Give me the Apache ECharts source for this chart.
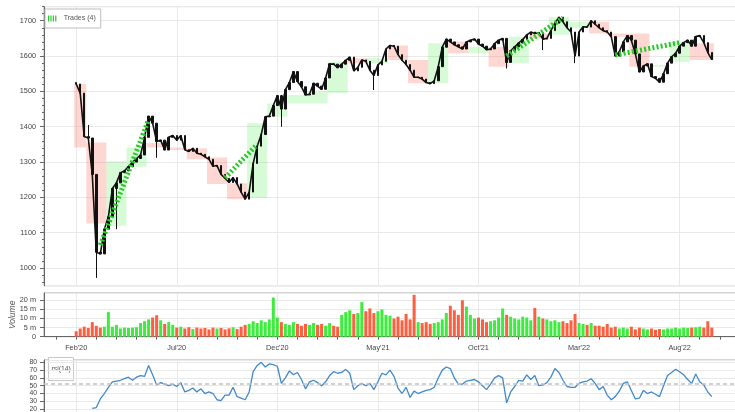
<!DOCTYPE html>
<html>
<head>
<meta charset="utf-8">
<script src="https://cdn.jsdelivr.net/npm/echarts@6/dist/echarts.min.js"></script>
<style>
html, body { margin: 0; padding: 0; background: #fff; }
#chart { width: 735px; height: 412px; }
</style>
</head>
<body>
<div id="chart"></div>
<script>
// bars sit on a shared slot axis, slot 8 is the first bar (Feb'20)
var slotCount = 175;
var firstSlot = 8;
var tickLabels = ["Feb'20", "Jul'20", "Dec'20", "May'21", "Oct'21", "Mar'22", "Aug'22"];

// closing prices, one per slot from firstSlot
var closes = [
  1521, 1495, 1372, 1368, 1265, 1045, 1040, 1110, 1145, 1225, 1241, 1270, 1275, 1287, 1300, 1310, 1320, 1370, 1430, 1410,
  1358, 1362, 1334, 1370, 1375, 1362, 1375, 1335, 1330, 1339, 1325, 1322, 1315, 1308, 1288, 1290, 1265, 1254, 1242, 1256,
  1238, 1215, 1195, 1215, 1296, 1345, 1378, 1428, 1430, 1460, 1488, 1450, 1505, 1525, 1556, 1528, 1513, 1490, 1492, 1523,
  1515, 1506, 1538, 1578, 1577, 1567, 1577, 1588, 1597, 1558, 1568, 1589, 1585, 1560, 1545, 1575, 1585, 1620, 1630, 1628,
  1604, 1588, 1576, 1560, 1540, 1540, 1535, 1525, 1522, 1530, 1570, 1625, 1648, 1640, 1632, 1626, 1620, 1640, 1645, 1648,
  1634, 1628, 1618, 1620, 1635, 1645, 1650, 1582, 1615, 1626, 1637, 1647, 1660, 1668, 1664, 1666, 1648, 1650, 1672, 1693,
  1710, 1697, 1680, 1668, 1600, 1668, 1683, 1682, 1700, 1690, 1680, 1672, 1668, 1655, 1600, 1612, 1640, 1658, 1645, 1606,
  1555, 1572, 1578, 1542, 1537, 1526, 1550, 1580, 1598, 1608, 1628, 1638, 1645, 1628, 1655, 1658, 1638, 1610, 1590
];

// [slot, high, low] for the longer wicks
var wicks = [
  [11, 1405, 1360], [13, 1120, 972], [18, 1245, 1110], [28, 1362, 1312], [59, 1490, 1400],
  [82, 1560, 1504], [115, 1650, 1565], [124, 1666, 1617], [132, 1668, 1580]
];

// volume in millions, one per slot from firstSlot
var volumes = [
  3.0, 4.5, 5.5, 4.8, 8.0, 6.0, 5.0, 5.5, 13.5, 5.5, 6.5, 4.5, 5.0, 4.8, 5.0, 5.2, 7.5, 8.5, 9.5, 10.5,
  11.8, 9.0, 7.0, 8.0, 6.5, 5.0, 5.5, 4.5, 5.2, 4.2, 5.0, 4.5, 4.8, 4.0, 5.0, 4.5, 4.8, 4.0, 4.6, 5.2,
  4.2, 5.5, 6.5, 7.0, 8.5, 7.5, 9.0, 8.0, 9.5, 21.5, 10.5, 8.0, 7.0, 6.5, 8.0, 7.0, 6.0, 7.0, 6.5, 7.5,
  6.5, 7.0, 6.0, 7.5, 6.0, 5.5, 12.0, 13.5, 14.5, 12.5, 13.0, 19.0, 14.0, 15.5, 13.0, 14.0, 15.0, 12.0, 11.5, 10.0,
  11.0, 9.0, 12.5, 9.5, 23.0, 8.0, 7.5, 8.0, 7.0, 7.5, 8.0, 9.5, 13.0, 17.0, 14.5, 12.0, 20.0, 16.5, 12.0, 10.0,
  10.5, 9.5, 8.0, 8.5, 9.0, 10.5, 15.5, 12.0, 11.0, 10.0, 9.5, 11.0, 10.5, 9.0, 15.8, 11.0, 10.0, 9.5, 8.5, 9.0,
  8.0, 8.5, 7.5, 9.0, 12.5, 7.5, 7.0, 6.5, 7.5, 6.0, 6.0, 5.5, 7.0, 5.0, 5.5, 4.5, 5.0, 4.5, 5.5, 4.0,
  5.0, 4.5, 4.0, 4.5, 3.8, 4.2, 4.0, 4.5, 4.5, 5.0, 4.5, 5.0, 4.8, 5.0, 5.2, 5.5, 5.0, 8.5, 5.0
];

// rsi(14), one per slot from rsiStart
var rsiStart = 12;
var rsi = [
  21, 22, 33, 40, 48, 55, 56, 57, 59, 61, 57, 61, 63, 62, 76, 64, 51, 54, 52, 50,
  52, 49, 54, 42, 44, 47, 42, 46, 40, 42, 40, 32, 31, 38, 38, 48, 36, 34, 32, 42,
  68, 76, 80, 74, 78, 77, 75, 53, 60, 69, 64, 67, 58, 46, 55, 57, 54, 50, 55, 63,
  68, 66, 67, 71, 66, 45, 50, 53, 50, 53, 45, 55, 66, 64, 70, 62, 47, 40, 48, 35,
  43, 40, 42, 44, 45, 48, 60, 70, 74, 72, 60, 52, 52, 56, 57, 58, 55, 50, 45, 52,
  60, 63, 60, 28, 42, 49, 57, 56, 64, 58, 63, 50, 51, 54, 61, 72, 67, 57, 49, 48,
  48, 53, 55, 56, 59, 53, 45, 49, 38, 32, 36, 43, 53, 55, 44, 33, 34, 44, 40, 42,
  39, 36, 50, 63, 67, 71, 68, 64, 58, 53, 65, 55, 51, 42, 36
];
var rsiMean = 52;

// monthly bars: [first slot, last slot, open, close]
var months = [
  [8, 10, 1521, 1341], [11, 15, 1355, 1126], [16, 20, 1120, 1302], [21, 25, 1287, 1341],
  [26, 30, 1354, 1341], [31, 35, 1341, 1334], [36, 40, 1339, 1308], [41, 45, 1313, 1238],
  [46, 50, 1240, 1195], [51, 55, 1198, 1410], [56, 60, 1428, 1466], [61, 65, 1466, 1490],
  [66, 70, 1466, 1499], [71, 75, 1495, 1584], [76, 80, 1594, 1580], [81, 85, 1580, 1594],
  [86, 90, 1630, 1589], [91, 95, 1589, 1523], [96, 100, 1523, 1636], [101, 105, 1641, 1608],
  [106, 110, 1608, 1626], [111, 115, 1626, 1570], [116, 120, 1580, 1655], [121, 125, 1664, 1650],
  [126, 130, 1660, 1710], [131, 135, 1680, 1697], [136, 140, 1697, 1664], [141, 145, 1664, 1655],
  [146, 150, 1664, 1570], [151, 155, 1570, 1575], [156, 160, 1584, 1641], [161, 166, 1636, 1589]
];

// trades: [entry slot, entry price, exit slot, exit price]
var trades = [
  [14, 1065, 26, 1420],
  [45, 1255, 53, 1350],
  [115, 1600, 129, 1708],
  [142, 1603, 158, 1638]
];

var font = 'Liberation Sans';
var tickFont = 7.3;
var gridColor = '#e9e9e9';
var upColor = '#3ded3d';
var downColor = '#ff5f3f';
var tradeColor = '#26c926';

var slots = [];
for (var i = 0; i < slotCount; i++) slots.push(String(i));

function isLabelSlot(idx) { return idx >= firstSlot && (idx - firstSlot) % 25 === 0; }
function isTickSlot(idx) { return (idx - firstSlot) % 5 === 0; }

// candles: open is the previous close
var candleData = [];
var closeData = [];
var volumeData = [];
for (var k = 0; k < closes.length; k++) {
  var slot = firstSlot + k;
  var o = k === 0 ? closes[0] + 4 : closes[k - 1];
  var c = closes[k];
  var hi = Math.max(o, c), lo = Math.min(o, c);
  wicks.forEach(function (w) {
    if (w[0] === slot) { hi = Math.max(hi, w[1]); lo = Math.min(lo, w[2]); }
  });
  candleData.push([slot, o, c, lo, hi]);
  closeData.push([slot, c]);
  volumeData.push({ value: [slot, volumes[k]], itemStyle: { color: c >= o ? upColor : downColor } });
}

var rsiData = rsi.map(function (v, j) { return [rsiStart + j, v]; });

var tradeSeries = trades.map(function (t) {
  return {
    name: 'Trades (4)',
    type: 'line',
    xAxisIndex: 0, yAxisIndex: 0,
    data: [[t[0], t[1]], [t[2], t[3]]],
    symbol: 'none',
    z: 5,
    lineStyle: { color: tradeColor, width: 5, type: [2, 2.2], cap: 'butt' },
    itemStyle: { color: tradeColor }
  };
});

var chart = echarts.init(document.getElementById('chart'));

var xBase = {
  type: 'category',
  data: slots,
  boundaryGap: false,
  axisLine: { show: false },
  axisTick: { show: false },
  axisLabel: { show: false },
  splitLine: { show: true, interval: isLabelSlot, lineStyle: { color: gridColor, width: 1 } }
};

function xAxisFor(gridIndex, extra) {
  return Object.assign({}, xBase, { gridIndex: gridIndex }, extra || {});
}

function panel(top, bottom, show) {
  return {
    left: 44, right: -9, top: top, bottom: bottom,
    outerBoundsMode: 'none', containLabel: false,
    show: show, borderColor: '#a9a9a9', borderWidth: 1
  };
}

var option = {
  animation: false,
  backgroundColor: '#fff',
  textStyle: { fontFamily: font },
  grid: [
    panel(6.6, 126.3, true),
    panel(293, 75.3, true),
    panel(360, -12.7, true),
    panel(6.6, 129.9, false)
  ],
  legend: {
    data: [{
      name: 'Trades (4)',
      icon: 'path://M0,0h2v10h-2zM4,0h2v10h-2zM8,0h2v10h-2zM12,0h2v10h-2z',
      itemStyle: { color: tradeColor }
    }],
    left: 45, top: 9,
    itemWidth: 13, itemHeight: 6, itemGap: 4,
    padding: [6, 5, 6, 3],
    backgroundColor: '#fff',
    borderColor: '#bdbdbd', borderWidth: 1,
    textStyle: { fontSize: 7, color: '#555', fontFamily: font }
  },
  graphic: [{
    type: 'group', left: 48, top: 357,
    children: [
      { type: 'rect', shape: { x: 0, y: 0, width: 25, height: 23 }, style: { fill: '#fff', stroke: '#c8c8c8', lineWidth: 1 } },
      { type: 'text', x: 3, y: 8, style: { text: 'rsi(14)', fontSize: 6.8, fill: '#555', fontFamily: font } }
    ]
  }],
  xAxis: [
    xAxisFor(0),
    xAxisFor(1, {
      axisLine: { show: true, lineStyle: { color: '#666', width: 1 } },
      axisTick: { show: true, interval: isTickSlot, length: 3, lineStyle: { color: '#666' } },
      axisLabel: {
        show: true, interval: isLabelSlot, margin: 8, hideOverlap: false,
        fontSize: tickFont, color: '#444', fontFamily: font,
        formatter: function (v) { return tickLabels[(Number(v) - firstSlot) / 25]; }
      }
    }),
    xAxisFor(2),
    xAxisFor(3, { splitLine: { show: false } })
  ],
  yAxis: [
    {
      gridIndex: 0, type: 'value', min: 950, max: 1740, splitNumber: 8,
      axisLine: { show: true, lineStyle: { color: '#666', width: 1 } },
      axisTick: { show: true, length: 4, lineStyle: { color: '#666' } },
      axisLabel: {
        fontSize: tickFont, color: '#444', margin: 8, showMinLabel: false, showMaxLabel: false, fontFamily: font,
        formatter: function (v) { return String(v); }
      },
      splitLine: { lineStyle: { color: gridColor } }
    },
    {
      gridIndex: 1, type: 'value', min: 0, max: 24, interval: 5,
      name: 'Volume', nameLocation: 'middle', nameGap: 27, nameRotate: 90, nameMoveOverlap: false,
      nameTextStyle: { fontStyle: 'italic', fontSize: 8.5, color: '#555', fontFamily: font },
      axisLine: { show: true, lineStyle: { color: '#666', width: 1 } },
      axisTick: { show: true, length: 4, lineStyle: { color: '#666' } },
      axisLabel: {
        fontSize: tickFont, color: '#444', margin: 8, showMinLabel: true, showMaxLabel: false, hideOverlap: false,
        fontFamily: font,
        formatter: function (v) { return v === 0 ? '0' : v + ' m'; }
      },
      splitLine: { lineStyle: { color: gridColor } }
    },
    {
      gridIndex: 2, type: 'value', min: 0, max: 83, interval: 10,
      axisLine: { show: true, lineStyle: { color: '#666', width: 1 } },
      axisTick: { show: true, length: 4, lineStyle: { color: '#666' } },
      axisLabel: { fontSize: 6.8, color: '#444', margin: 7, showMaxLabel: false, hideOverlap: false, fontFamily: font },
      splitLine: { lineStyle: { color: gridColor } }
    },
    {
      // minor ticks of the price axis
      gridIndex: 3, type: 'value', min: 960, max: 1740, interval: 20,
      axisLine: { show: false },
      axisTick: { show: true, length: 2, lineStyle: { color: '#666' } },
      axisLabel: { show: false },
      splitLine: { show: false }
    }
  ],
  series: [
    {
      name: 'months',
      type: 'custom',
      xAxisIndex: 0, yAxisIndex: 0,
      z: 1,
      clip: true,
      data: months,
      encode: { x: [0, 1], y: [2, 3] },
      renderItem: function (params, api) {
        var a = api.coord([api.value(0), api.value(2)]);
        var b = api.coord([api.value(1), api.value(3)]);
        var half = api.size([1, 0])[0] / 2;
        var up = api.value(3) >= api.value(2);
        return {
          type: 'rect',
          shape: { x: a[0] - half, y: Math.min(a[1], b[1]), width: b[0] - a[0] + 2 * half, height: Math.abs(a[1] - b[1]) },
          style: { fill: up ? 'rgba(70, 235, 70, 0.22)' : 'rgba(255, 95, 75, 0.25)' }
        };
      }
    },
    {
      name: 'close',
      type: 'line',
      xAxisIndex: 0, yAxisIndex: 0,
      z: 2,
      data: closeData,
      symbol: 'none',
      lineStyle: { color: '#111', width: 1.6 }
    },
    {
      name: 'OHLC',
      type: 'candlestick',
      xAxisIndex: 0, yAxisIndex: 0,
      z: 3,
      barWidth: 2,
      data: candleData,
      encode: { x: 0, y: [1, 2, 3, 4] },
      itemStyle: { color: '#111', color0: '#111', borderColor: '#111', borderColor0: '#111', borderWidth: 1 }
    }
  ].concat(tradeSeries).concat([
    {
      name: 'Volume',
      type: 'bar',
      xAxisIndex: 1, yAxisIndex: 1,
      barWidth: 3,
      data: volumeData
    },
    {
      name: 'rsi(14)',
      type: 'line',
      xAxisIndex: 2, yAxisIndex: 2,
      data: rsiData,
      symbol: 'none',
      lineStyle: { color: '#4289c9', width: 1.3 },
      itemStyle: { color: '#4289c9' },
      markLine: {
        silent: true, symbol: 'none', label: { show: false },
        lineStyle: { color: '#c2c2c2', type: [4, 3], width: 1.5 },
        data: [{ yAxis: rsiMean }]
      }
    }
  ])
};

chart.setOption(option);
</script>
</body>
</html>
